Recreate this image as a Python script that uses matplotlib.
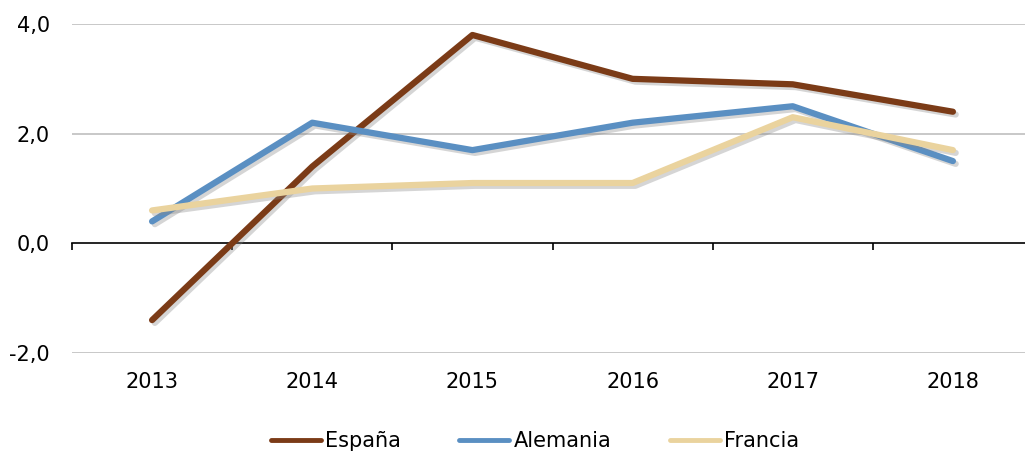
import numpy as np
import matplotlib
matplotlib.use('Agg')
from matplotlib import pyplot as plt
from matplotlib.lines import Line2D
import matplotlib.patheffects as pe

years = ['2013', '2014', '2015', '2016', '2017', '2018']
espana = [-1.4, 1.4, 3.8, 3.0, 2.9, 2.4]
alemania = [0.4, 2.2, 1.7, 2.2, 2.5, 1.5]
francia = [0.6, 1.0, 1.1, 1.1, 2.3, 1.7]

series = [('España', espana, '#7b3b17'),
          ('Alemania', alemania, '#5a8fc2'),
          ('Francia', francia, '#ead39e')]

plt.rcParams['font.family'] = ['DejaVu Sans']

fig = plt.figure(figsize=(10.25, 4.55), dpi=100)
ax = fig.add_axes([72/1025, 102/455, 961/1025, 329/455])

x = np.arange(len(years))
shadow = [pe.SimpleLineShadow(offset=(2, -2), shadow_color='#888888', alpha=0.35), pe.Normal()]
for name, vals, col in series:
    ax.plot(x, vals, color=col, lw=4.5, label=name, solid_capstyle='round',
            solid_joinstyle='round', path_effects=shadow, zorder=3)

ax.set_xlim(-0.5, len(years) - 0.5)
ax.set_ylim(-2, 4)
ax.set_yticks([-2, 0, 2, 4])
ax.set_yticklabels(['-2,0', '0,0', '2,0', '4,0'], fontsize=15)
ax.tick_params(axis='y', length=0, pad=16)

for v in [-2, 2, 4]:
    ax.axhline(v, color='#bfbfbf', lw=1.2, zorder=1)

# eje x en cero, etiquetas abajo
ax.spines['bottom'].set_position(('data', 0))
ax.spines['bottom'].set_color('black')
ax.spines['bottom'].set_linewidth(1.2)
for s in ['top', 'right', 'left']:
    ax.spines[s].set_visible(False)
ax.set_xticks(x)
ax.set_xticklabels(years, fontsize=15)
ax.set_xticks(np.arange(len(years) + 1) - 0.5, minor=True)
ax.tick_params(axis='x', which='major', length=0, pad=93)
ax.tick_params(axis='x', which='minor', length=5, width=1.2, direction='out')

handles = [Line2D([], [], color=col, lw=3.5, solid_capstyle='round') for _, _, col in series]
labels = [name for name, _, _ in series]
fig.legend(handles, labels, loc='center', bbox_to_anchor=(0.522, 0.031), ncol=3,
           frameon=False, fontsize=15, handlelength=2.4, handletextpad=0.2,
           columnspacing=2.8)

fig.savefig('out.png', dpi=100)
